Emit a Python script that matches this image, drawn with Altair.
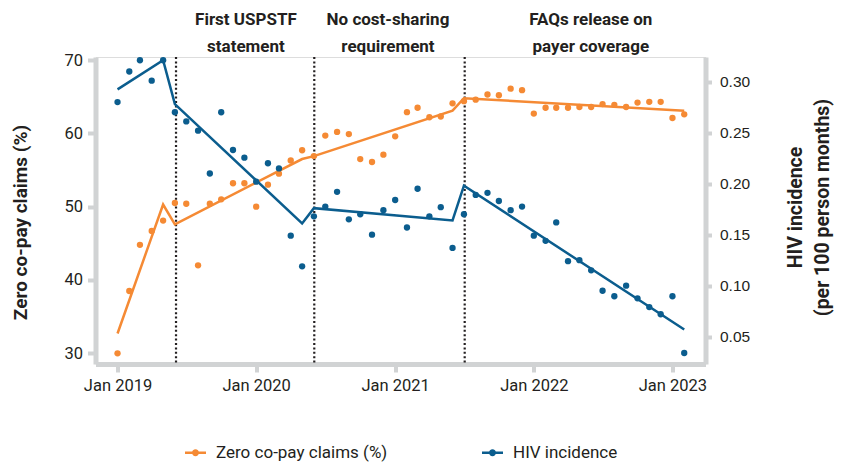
import altair as alt
import pandas as pd

# ---------------- data ----------------
months = pd.date_range("2019-01-01", periods=50, freq="MS").strftime("%Y-%m-%d").tolist()

zero_copay = [30.0, 38.5, 44.8, 46.7, 48.1, 50.5, 50.4, 42.0, 50.4, 51.0, 53.2, 53.2,
              50.0, 53.0, 54.5, 56.3, 57.7, 56.9, 59.7, 60.2, 59.9, 56.5, 56.1, 57.1,
              59.6, 62.9, 63.5, 62.2, 62.3, 64.1, 64.4, 64.6, 65.3, 65.2, 66.1, 65.9,
              62.7, 63.5, 63.5, 63.5, 63.6, 63.6, 64.0, 63.9, 63.6, 64.2, 64.3, 64.3,
              62.1, 62.6]

hiv_incidence = [0.280, 0.310, 0.321, 0.301, 0.321, 0.270, 0.261, 0.252, 0.210, 0.270, 0.233, 0.2255,
                 0.202, 0.220, 0.215, 0.149, 0.119, 0.168, 0.1775, 0.192, 0.165, 0.170, 0.150, 0.174,
                 0.184, 0.157, 0.195, 0.168, 0.177, 0.137, 0.170, 0.189, 0.191, 0.183, 0.174, 0.1775,
                 0.149, 0.144, 0.162, 0.124, 0.125, 0.115, 0.095, 0.0896, 0.100, 0.0876, 0.079, 0.072,
                 0.0896, 0.034]

fit_dates = ["2019-01-01", "2019-05-01", "2019-06-01", "2020-05-01",
             "2020-06-01", "2021-06-01", "2021-07-01", "2023-02-01"]
zero_fit = [32.7, 50.3, 47.6, 56.5, 56.9, 63.1, 64.8, 63.1]
hiv_fit = [0.2925, 0.321, 0.278, 0.161, 0.176, 0.164, 0.198, 0.057]

event_dates = ["2019-06-04", "2020-06-02", "2021-07-03"]
event_label_dates = ["2019-12-05", "2020-12-13", "2022-05-31"]
event_labels = ["First USPSTF\nstatement", "No cost-sharing\nrequirement", "FAQs release on\npayer coverage"]

series_names = ["Zero co-pay claims (%)", "HIV incidence"]
series_colors = ["#F58A34", "#0B5D8E"]

x_tick_years = [2019, 2020, 2021, 2022, 2023]
left_ticks = [30, 40, 50, 60, 70]
right_ticks = [0.05, 0.10, 0.15, 0.20, 0.25, 0.30]

# ---------------- tables ----------------
obs_zero = pd.DataFrame({"date": months, "zero": zero_copay, "series": series_names[0]})
obs_hiv = pd.DataFrame({"date": months, "hiv": hiv_incidence, "series": series_names[1]})
fit = pd.DataFrame({"date": fit_dates, "zero": zero_fit, "hiv": hiv_fit})
events = pd.DataFrame({"date": event_dates})
labels = pd.DataFrame({"date": event_label_dates, "label": event_labels})

GRAY = "#D1D3D4"
TXT = "#231F20"

x_scale = alt.Scale(type="utc",
                    domain=[alt.DateTime(year=2018, month=11, date=4, utc=True),
                            alt.DateTime(year=2023, month=3, date=29, utc=True)])
x_axis = alt.Axis(values=[alt.DateTime(year=y, month=1, date=1, utc=True) for y in x_tick_years],
                  labelExpr="'Jan ' + utcFormat(datum.value, '%Y')",
                  title=None, grid=False, domainColor=GRAY, domainWidth=5,
                  tickColor=GRAY, tickWidth=4, tickSize=8, labelPadding=5,
                  labelFont="Roboto", labelFontSize=16.5, labelColor=TXT)
X = alt.X("date:T", scale=x_scale, axis=x_axis)

color_scale = alt.Scale(domain=series_names, range=series_colors)
LEG_PATH = ("M-1,-0.11L1,-0.11L1,0.11L-1,0.11Z "
            "M0.33,0A0.33,0.33,0,1,1,-0.33,0A0.33,0.33,0,1,1,0.33,0Z")
legend = alt.Legend(orient="none", legendX=89.5, legendY=385, direction="horizontal",
                    title=None, symbolType=LEG_PATH, symbolSize=441, symbolStrokeWidth=0,
                    symbolOpacity=1, labelFont="Roboto", labelFontSize=17, labelColor=TXT,
                    labelOffset=10, columnPadding=94, labelLimit=400)
COLOR = alt.Color("series:N", scale=color_scale, legend=legend)

left_axis = alt.Axis(orient="left", values=left_ticks, grid=False, title="Zero co-pay claims (%)",
                     domainColor=GRAY, domainWidth=5, tickColor=GRAY, tickWidth=4, tickSize=8,
                     labelPadding=5, labelFont="Roboto", labelFontSize=16.5, labelColor=TXT,
                     titleFont="Roboto", titleFontWeight="bold", titleFontSize=19, titleColor=TXT,
                     titleAngle=270, titleX=-75.5, titleY=165, titleAlign="center",
                     titleBaseline="middle")
right_axis = alt.Axis(orient="right", values=right_ticks, format=".2f", grid=False,
                      title=["HIV incidence", "(per 100 person months)"],
                      domainColor=GRAY, domainWidth=5, tickColor=GRAY, tickWidth=4, tickSize=6,
                      labelPadding=8, labelFont="Liberation Sans", labelFontSize=15.5, labelColor=TXT,
                      titleFont="Roboto", titleFontWeight="bold", titleFontSize=19.5, titleColor=TXT,
                      titleAngle=270, titleX=90, titleY=150, titleAlign="center",
                      titleBaseline="middle", titleLineHeight=27)

left_y = alt.Y("zero:Q", scale=alt.Scale(domain=[28.54, 70.42], nice=False, zero=False), axis=left_axis)
right_y = alt.Y("hiv:Q", scale=alt.Scale(domain=[0.0232, 0.3242], nice=False, zero=False), axis=right_axis)

rules = alt.Chart(events).mark_rule(color=TXT, strokeWidth=2.2, strokeDash=[2, 2.4]).encode(x=X)

texts = alt.Chart(labels).mark_text(font="Roboto", fontWeight="bold", fontSize=17,
                                    color=TXT, baseline="top", align="center", lineBreak="\n",
                                    lineHeight=27).encode(x=X, y=alt.value(-45), text="label:N")

left_line = alt.Chart(fit).mark_line(color=series_colors[0], strokeWidth=2.5).encode(x=X, y=left_y)
left_pts = alt.Chart(obs_zero).mark_circle(size=40, opacity=1).encode(x=X, y=left_y, color=COLOR)
left_layer = alt.layer(left_line, left_pts)

right_line = alt.Chart(fit).mark_line(color=series_colors[1], strokeWidth=2.5).encode(x=X, y=right_y)
right_pts = alt.Chart(obs_hiv).mark_circle(size=40, opacity=1).encode(x=X, y=right_y, color=COLOR)
right_layer = alt.layer(right_line, right_pts)

chart = alt.layer(rules, texts, left_layer, right_layer).resolve_scale(y="independent").properties(
    width=610, height=307,
    autosize=alt.AutoSizeParams(type="none"),
    padding={"left": 87.5, "top": 49, "right": 132, "bottom": 99},
).configure_view(stroke=None).configure(background="white")

chart.save("out.html", embed_options={"renderer": "svg", "actions": False})
